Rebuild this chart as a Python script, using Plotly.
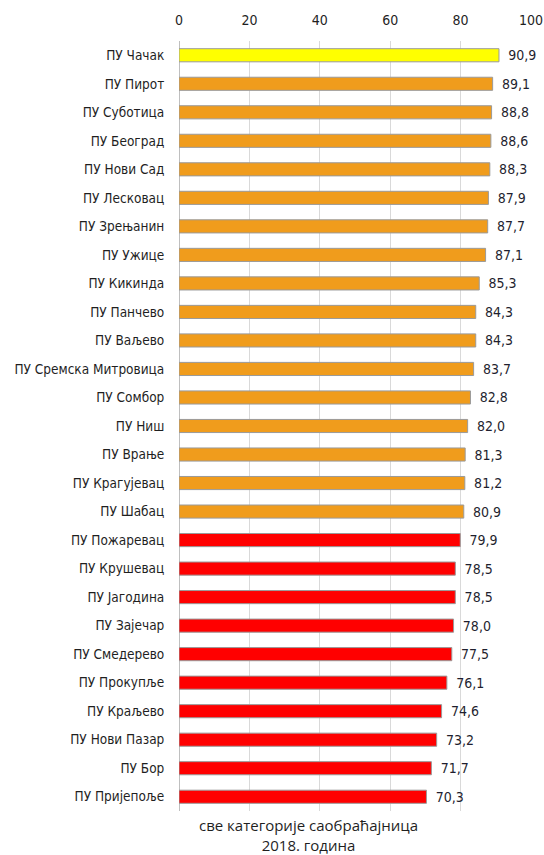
import plotly.graph_objects as go

categories = ["ПУ Чачак", "ПУ Пирот", "ПУ Суботица", "ПУ Београд", "ПУ Нови Сад", "ПУ Лесковац",
              "ПУ Зрењанин", "ПУ Ужице", "ПУ Кикинда", "ПУ Панчево", "ПУ Ваљево",
              "ПУ Сремска Митровица", "ПУ Сомбор", "ПУ Ниш", "ПУ Врање", "ПУ Крагујевац",
              "ПУ Шабац", "ПУ Пожаревац", "ПУ Крушевац", "ПУ Јагодина", "ПУ Зајечар",
              "ПУ Смедерево", "ПУ Прокупље", "ПУ Краљево", "ПУ Нови Пазар", "ПУ Бор", "ПУ Пријепоље"]
values = [90.9, 89.1, 88.8, 88.6, 88.3, 87.9, 87.7, 87.1, 85.3, 84.3, 84.3, 83.7, 82.8, 82.0,
          81.3, 81.2, 80.9, 79.9, 78.5, 78.5, 78.0, 77.5, 76.1, 74.6, 73.2, 71.7, 70.3]
tick_vals = [0, 20, 40, 60, 80, 100]
caption_lines = ["све категорије саобраћајница", "2018. година"]

def color_for(i, v):
    if i == 0:
        return "#FFFF00"
    if v >= 80:
        return "#F09C1C"
    return "#FF0000"

colors = [color_for(i, v) for i, v in enumerate(values)]

font_narrow = "DejaVu Sans Condensed, Liberation Sans Narrow, Arial Narrow, Liberation Sans, sans-serif"

fig = go.Figure(go.Bar(
    x=values, y=categories, orientation="h",
    marker=dict(color=colors, line=dict(color="#9a9a9a", width=1)),
    width=0.46,
    text=values, texttemplate="\u2002%{x:.1f}", textposition="outside",
    constraintext="none",
    textfont=dict(family=font_narrow, size=14, color="#1f1f2f"),
    cliponaxis=False,
))

fig.update_layout(
    width=544, height=855,
    margin=dict(l=179, r=13, t=41, b=44),
    plot_bgcolor="white", paper_bgcolor="white",
    separators=", ",
    showlegend=False,
    xaxis=dict(side="top", range=[0, 100], tickvals=tick_vals, automargin=False,
               showgrid=True, gridcolor="#d9d9d9", gridwidth=1,
               zeroline=True, zerolinecolor="#bfbfbf", zerolinewidth=1,
               ticks="outside", ticklen=9, tickcolor="rgba(0,0,0,0)",
               tickfont=dict(family=font_narrow, size=14, color="#1f1f1f"),
               showline=False),
    yaxis=dict(autorange="reversed", categoryorder="array", categoryarray=categories,
               automargin=False,
               ticks="outside", ticklen=11, tickcolor="rgba(0,0,0,0)",
               tickfont=dict(family=font_narrow, size=13.5, color="#1f1f1f"),
               showgrid=False),
)
fig.add_annotation(text="<br>".join(caption_lines), xref="paper", yref="paper",
                   x=(308 - 179) / (531 - 179), y=0, yshift=-2, yanchor="top",
                   showarrow=False, align="center",
                   font=dict(family="Open Sans, Noto Sans, sans-serif", size=15, color="#1f1f1f"))

fig.write_html("out.html", config={"displayModeBar": False},
               post_script="document.body.style.margin='0';")
